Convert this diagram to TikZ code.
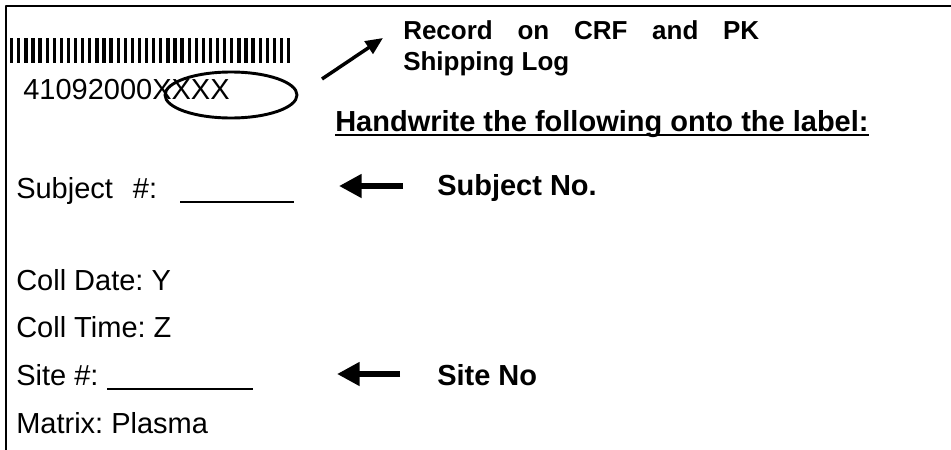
\documentclass[tikz,border=0pt]{standalone}
\usepackage{fontspec}
\setmainfont{Liberation Sans}
\usetikzlibrary{arrows.meta}
\frenchspacing
\tikzset{
  txt/.style={anchor=base west, inner sep=0pt, font=\fontsize{21.75}{26}\selectfont},
  boldtxt/.style={txt, font=\fontsize{21.75}{26}\selectfont\bfseries},
  notetxt/.style={txt, font=\fontsize{19.5}{23}\selectfont\bfseries},
  pointer/.style={line width=5.2pt, -{Triangle[length=17pt,width=17pt]}},
  blank/.style={line width=1.1pt},
}
\begin{document}
\begin{tikzpicture}[x=0.75pt, y=-0.75pt, line join=round]
	\useasboundingbox (0,0) rectangle (951,450);
	% label frame
	\draw[line width=1.5pt] (6,450) -- (6,5.5) -- (951,5.5);
	% barcode
	\foreach \i in {0,...,39}
		\fill (10+\i*7.1,38) rectangle ++(3.3,25);
	\node[txt] (code) at (23,99) {41092000XXXX};
	\draw[line width=2.2pt] (231,95) ellipse [x radius=66, y radius=23];
	\coordinate (rtail) at (322,79);
	\coordinate (rtip) at (383,38);
	\draw[line width=2.6pt, -{Triangle[length=13pt,width=11pt]}] (rtail) -- (rtip);
	\node[notetxt] (rec) at (403,39) {\hbox to 267pt{Record\hfill on\hfill CRF\hfill and\hfill PK}};
	\node[notetxt] (ship) at (403,70) {Shipping Log};
	\node[boldtxt] (hw) at (335,131) {Handwrite the following onto the label:};
	\draw[line width=2.2pt] ([yshift=-3pt]hw.base west) -- ([yshift=-3pt]hw.base east);
	% label fields
	\node[txt] (subj) at (16,198) {Subject\hspace{15pt}\#:};
	\draw[blank] (180,202) -- (294,202);
	\node[txt] (date) at (16,290) {Coll Date: Y};
	\node[txt] (time) at (16,337) {Coll Time: Z};
	\node[txt] (site) at (16,385) {Site \#:};
	\draw[blank] (107,389) -- (253,389);
	\node[txt] (matrix) at (16,433) {Matrix: Plasma};
	% pointers
	\node[boldtxt] (subjno) at (437,195) {Subject No.};
	\node[boldtxt] (siteno) at (437,385) {Site No};
	\coordinate (stail) at (403,186);
	\coordinate (stip) at (339,186);
	\coordinate (ttail) at (400,374);
	\coordinate (ttip) at (337,374);
	\draw[pointer] (stail) -- (stip);
	\draw[pointer] (ttail) -- (ttip);
\end{tikzpicture}
\end{document}
